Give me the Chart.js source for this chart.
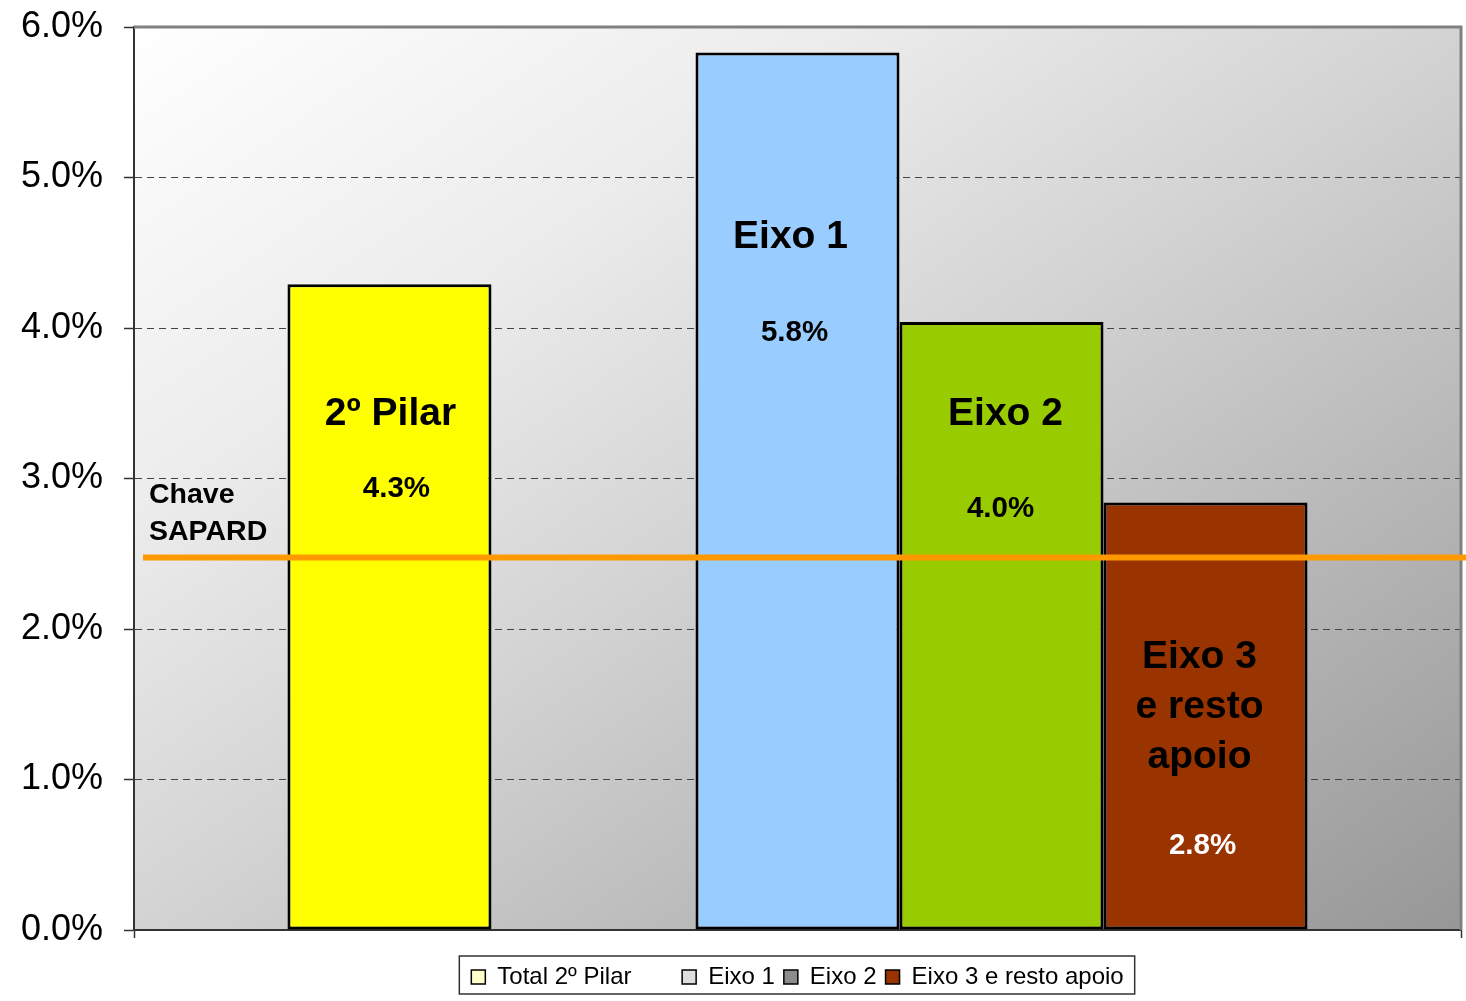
<!DOCTYPE html>
<html>
<head>
<meta charset="utf-8">
<script src="https://cdn.jsdelivr.net/npm/chart.js@4/dist/chart.umd.min.js"></script>
<style>
  html, body { margin: 0; padding: 0; background: #ffffff; }
  #wrap { width: 1466px; height: 1001px; position: relative; }
</style>
</head>
<body>
<div id="wrap"><canvas id="c"></canvas></div>
<script>
// ---- data ----
const categories = [''];
const seriesNames = ['Total 2º Pilar', ' ', 'Eixo 1', 'Eixo 2', 'Eixo 3 e resto apoio'];
const seriesValues = [4.29, null, 5.83, 4.04, 2.84];
const barTitles = [['2º Pilar'], null, ['Eixo 1'], ['Eixo 2'], ['Eixo 3', 'e resto', 'apoio']];
const referenceLabel = ['Chave', 'SAPARD'];
const referenceValue = 2.475;
const yTickValues = [0, 1, 2, 3, 4, 5, 6];

// ---- styles / layout ----
const barColors = ['#ffff00', 'rgba(0,0,0,0)', '#99ccff', '#99cc00', '#993300'];
const legendMarkerColors = ['#ffffcc', 'rgba(0,0,0,0)', '#dedede', '#8c8c8c', '#993300'];
const valueTextColors = ['#000000', null, '#000000', '#000000', '#ffffff'];
// label anchor positions (in axis units) and small horizontal offsets (px)
const titleAnchorY = [3.43, null, 4.6, 3.43, 1.81];
const valueAnchorY = [2.93, null, 3.97, 2.80, 0.56];
const titleDx = [1, 0, -7, 4, -6];
const valueDx = [7, 0, -3, -1, -3];
const FONT = '"Liberation Sans", Arial, Helvetica, sans-serif';

const bgPlugin = {
  id: 'bg',
  beforeDraw(chart) {
    const { ctx, chartArea: a } = chart;
    ctx.save();
    ctx.translate(a.left, a.top);
    ctx.scale(a.right - a.left, a.bottom - a.top);
    const g = ctx.createLinearGradient(0, 0, 1, 1);
    g.addColorStop(0, '#ffffff');
    g.addColorStop(0.27, '#ececec');
    g.addColorStop(0.5, '#d3d3d3');
    g.addColorStop(1, '#979797');
    ctx.fillStyle = g;
    ctx.fillRect(0, 0, 1, 1);
    ctx.restore();
  }
};

const overlayPlugin = {
  id: 'overlay',
  afterDatasetsDraw(chart) {
    const { ctx, chartArea: a } = chart;
    const ys = chart.scales.y;
    ctx.save();
    // top & right plot border
    ctx.strokeStyle = '#808080';
    ctx.lineWidth = 3;
    ctx.beginPath();
    ctx.moveTo(a.left, a.top);
    ctx.lineTo(a.right, a.top);
    ctx.lineTo(a.right, a.bottom);
    ctx.stroke();

    // reference line
    const ry = ys.getPixelForValue(referenceValue);
    ctx.strokeStyle = '#ff9900';
    ctx.lineWidth = 6;
    ctx.beginPath();
    ctx.moveTo(a.left + 9, ry);
    ctx.lineTo(chart.width, ry);
    ctx.stroke();

    // reference label
    ctx.fillStyle = '#000';
    ctx.font = 'bold 28.5px ' + FONT;
    ctx.textAlign = 'left';
    ctx.textBaseline = 'middle';
    ctx.fillText(referenceLabel[0], a.left + 15, ry - 62);
    ctx.fillText(referenceLabel[1], a.left + 15, ry - 25);

    // bar labels
    ctx.textAlign = 'center';
    chart.data.datasets.forEach((ds, i) => {
      const v = ds.data[0];
      if (v == null) return;
      const bar = chart.getDatasetMeta(i).data[0];
      const lines = barTitles[i];
      ctx.fillStyle = '#000';
      ctx.font = 'bold 39px ' + FONT;
      const ty = ys.getPixelForValue(titleAnchorY[i]);
      lines.forEach((ln, k) => ctx.fillText(ln, bar.x + titleDx[i], ty + k * 50));
      ctx.fillStyle = valueTextColors[i];
      ctx.font = 'bold 29.5px ' + FONT;
      ctx.fillText(v.toFixed(1) + '%', bar.x + valueDx[i], ys.getPixelForValue(valueAnchorY[i]));
    });
    ctx.restore();
  },
  afterDraw(chart) {
    const hb = chart.legend && chart.legend.legendHitBoxes;
    if (!hb || !hb.length) return;
    const ctx = chart.ctx;
    let l = Infinity, r = -Infinity, t = Infinity, b = -Infinity;
    hb.forEach(h => {
      l = Math.min(l, h.left); r = Math.max(r, h.left + h.width);
      t = Math.min(t, h.top); b = Math.max(b, h.top + h.height);
    });
    ctx.save();
    ctx.strokeStyle = '#333';
    ctx.lineWidth = 1.5;
    ctx.strokeRect(l - 12, t - 9, (r - l) + 23, (b - t) + 14);
    ctx.restore();
  }
};

const datasets = seriesNames.map((name, i) => ({
  label: name,
  data: [seriesValues[i]],
  backgroundColor: barColors[i],
  borderColor: seriesValues[i] == null ? 'rgba(0,0,0,0)' : '#000000',
  borderWidth: 3,
  borderSkipped: false,
  categoryPercentage: 0.7687,
  barPercentage: 1.0
}));

new Chart(document.getElementById('c'), {
  type: 'bar',
  data: { labels: categories, datasets },
  plugins: [bgPlugin, overlayPlugin],
  options: {
    responsive: true,
    maintainAspectRatio: false,
    animation: false,
    layout: { padding: { left: 0, top: 27, right: 5, bottom: 2 } },
    plugins: {
      tooltip: { enabled: false },
      legend: {
        position: 'bottom',
        fullSize: false,
        onClick: () => {},
        labels: {
          boxWidth: 14,
          boxHeight: 14,
          padding: 9,
          color: '#000',
          font: { family: FONT, size: 24 },
          generateLabels: (chart) => chart.data.datasets.map((ds, i) => ({
            text: ds.label,
            fillStyle: legendMarkerColors[i],
            strokeStyle: seriesValues[i] == null ? 'rgba(0,0,0,0)' : '#000',
            lineWidth: seriesValues[i] == null ? 0 : 1.5,
            fontColor: '#000',
            hidden: false,
            datasetIndex: i
          }))
        }
      }
    },
    scales: {
      x: {
        grid: { drawOnChartArea: false, drawTicks: true, tickLength: 8, tickColor: '#333', tickWidth: 1.5 },
        border: { display: true, color: '#333', width: 2 },
        ticks: { display: false },
        afterFit: (s) => { s.height = 26; }
      },
      y: {
        min: 0, max: 6,
        afterBuildTicks: (s) => { s.ticks = yTickValues.map(v => ({ value: v })); },
        ticks: {
          color: '#000',
          padding: 21,
          font: { family: FONT, size: 36 },
          callback: (v) => Number(v).toFixed(1) + '%'
        },
        grid: {
          color: (c) => (c.tick && (c.tick.value === 0 || c.tick.value === 6)) ? 'rgba(0,0,0,0)' : '#444',
          lineWidth: 1,
          tickLength: 10,
          tickColor: '#333',
          tickWidth: 1.5,
          tickBorderDash: []
        },
        border: { display: true, color: '#333', width: 2, dash: [7, 5] },
        afterFit: (s) => { s.width = 134; s.paddingTop = 0; s.paddingBottom = 0; }
      }
    }
  }
});
</script>
</body>
</html>
